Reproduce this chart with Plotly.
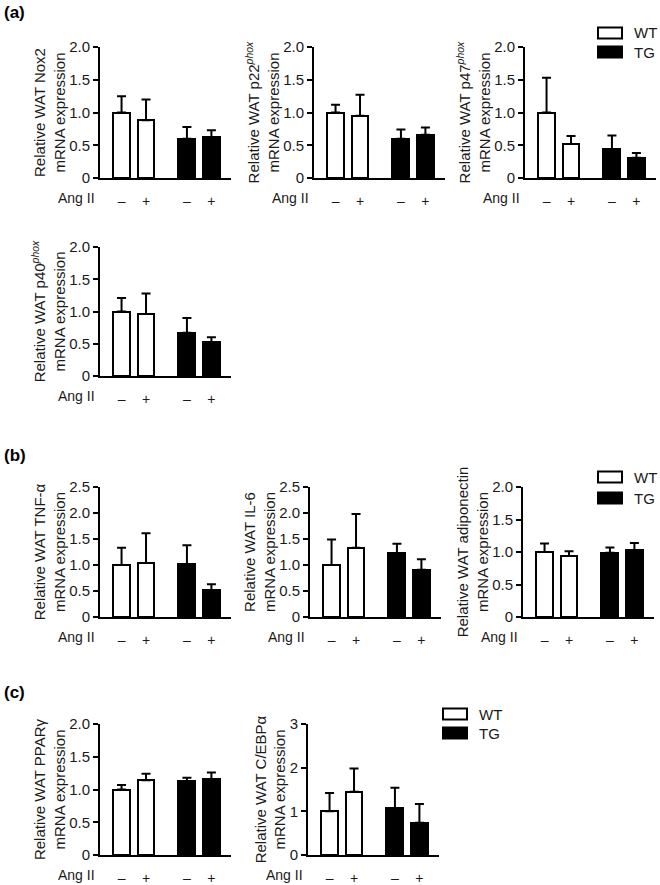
import plotly.graph_objects as go

W, H = 660, 885

# ---------------- data ----------------
ang_labels = ["–", "+", "–", "+"]          # Ang II treatment
group_names = ["WT", "TG"]

nox2_mean = [1.00, 0.88, 0.60, 0.62]
nox2_sd = [0.25, 0.32, 0.18, 0.11]

p22_mean = [1.00, 0.95, 0.60, 0.66]
p22_sd = [0.12, 0.32, 0.14, 0.11]

p47_mean = [1.00, 0.52, 0.44, 0.31]
p47_sd = [0.53, 0.12, 0.21, 0.07]

p40_mean = [1.00, 0.96, 0.67, 0.52]
p40_sd = [0.21, 0.32, 0.23, 0.08]

tnf_mean = [1.00, 1.04, 1.02, 0.52]
tnf_sd = [0.33, 0.57, 0.36, 0.11]

il6_mean = [1.00, 1.33, 1.23, 0.91]
il6_sd = [0.49, 0.65, 0.18, 0.20]

adipo_mean = [1.00, 0.94, 0.99, 1.03]
adipo_sd = [0.13, 0.07, 0.08, 0.11]

ppar_mean = [1.00, 1.14, 1.13, 1.16]
ppar_sd = [0.07, 0.10, 0.05, 0.10]

cebp_mean = [1.00, 1.45, 1.07, 0.74]
cebp_sd = [0.42, 0.53, 0.47, 0.43]

ticks_20 = [0, 0.5, 1.0, 1.5, 2.0]
ticks_20_text = ["0", "0.5", "1.0", "1.5", "2.0"]
ticks_25 = [0, 0.5, 1.0, 1.5, 2.0, 2.5]
ticks_25_text = ["0", "0.5", "1.0", "1.5", "2.0", "2.5"]
ticks_3 = [0, 1, 2, 3]
ticks_3_text = ["0", "1", "2", "3"]

# ---------------- layout helpers ----------------
FONT = "Liberation Sans, Arial, Helvetica, sans-serif"
TXT = "#1a1a1a"
x_pos = [0, 1, 2.67, 3.67]
XR = [-0.88, 4.47]
PW = 131  # plot width in px

def title(name):
    return "Relative WAT " + name + "<br>mRNA expression"

panels = [
    # title, mean, sd, tickvals, ticktext, left px, top px, bottom px
    (title("Nox2"), nox2_mean, nox2_sd, ticks_20, ticks_20_text, 100, 47, 178),
    (title("p22<sup><i>phox</i></sup>"), p22_mean, p22_sd, ticks_20, ticks_20_text, 314, 47, 178),
    (title("p47<sup><i>phox</i></sup>"), p47_mean, p47_sd, ticks_20, ticks_20_text, 525, 47, 178),
    (title("p40<sup><i>phox</i></sup>"), p40_mean, p40_sd, ticks_20, ticks_20_text, 100, 247, 376),
    (title("TNF-α"), tnf_mean, tnf_sd, ticks_25, ticks_25_text, 100, 487, 617),
    (title("IL-6"), il6_mean, il6_sd, ticks_25, ticks_25_text, 310, 487, 617),
    (title("adiponectin"), adipo_mean, adipo_sd, ticks_20, ticks_20_text, 523, 487, 617),
    (title("PPARγ"), ppar_mean, ppar_sd, ticks_20, ticks_20_text, 100, 724, 855),
    (title("C/EBPα"), cebp_mean, cebp_sd, ticks_3, ticks_3_text, 308, 724, 855),
]

fig = go.Figure()
layout = dict(
    width=W, height=H,
    margin=dict(l=0, r=0, t=0, b=0, pad=0),
    paper_bgcolor="white", plot_bgcolor="white",
    showlegend=False,
    font=dict(family=FONT, size=14, color=TXT),
    bargap=0,
)
annotations = []
shapes = []

for i, (ttl, mean, sd, tv, tt, left, top, bottom) in enumerate(panels, start=1):
    xa = "x" if i == 1 else f"x{i}"
    ya = "y" if i == 1 else f"y{i}"
    for g, (sl, fill) in enumerate([(slice(0, 2), "white"), (slice(2, 4), "black")]):
        fig.add_trace(go.Bar(
            x=x_pos[sl], y=mean[sl], width=0.69,
            name=group_names[g],
            marker=dict(color=fill, line=dict(color="black", width=2)),
            error_y=dict(type="data", symmetric=False, array=sd[sl],
                         arrayminus=[0, 0], color="black", thickness=2, width=4.5),
            xaxis=xa, yaxis=ya,
        ))
    ymax = tv[-1]
    layout["xaxis" if i == 1 else f"xaxis{i}"] = dict(
        domain=[left / W, (left + PW) / W], range=XR,
        showline=True, linecolor="black", linewidth=2,
        showgrid=False, zeroline=False, ticks="",
        tickvals=x_pos, ticktext=ang_labels,
        tickfont=dict(size=14, color=TXT), ticklabelstandoff=9,
        anchor=ya, fixedrange=True, automargin=False,
    )
    layout["yaxis" if i == 1 else f"yaxis{i}"] = dict(
        domain=[1 - bottom / H, 1 - top / H], range=[0, ymax],
        showline=True, linecolor="black", linewidth=2,
        showgrid=False, zeroline=False,
        ticks="outside", ticklen=5, tickwidth=2, tickcolor="black",
        tickvals=tv, ticktext=tt, tickfont=dict(size=15, color=TXT),
        title=dict(text=ttl, font=dict(size=15, color=TXT), standoff=0),
        anchor=xa, fixedrange=True, automargin=False,
    )
    # "Ang II" row label
    annotations.append(dict(
        text="Ang II", xref="paper", yref="paper",
        x=(left - 3) / W, y=1 - (bottom + 20) / H,
        xanchor="right", yanchor="middle", showarrow=False,
        font=dict(size=14, color=TXT),
    ))

# panel letters
for lab, yy in [("(a)", 12), ("(b)", 455), ("(c)", 692)]:
    annotations.append(dict(
        text=f"<b>{lab}</b>", xref="paper", yref="paper",
        x=2 / W, y=1 - yy / H, xanchor="left", yanchor="middle",
        showarrow=False, font=dict(size=17, color="black"),
    ))

# legends
for lx, wy, ty in [(598, 33, 52), (598, 477, 498), (443, 714, 733)]:
    for name, cy, fill in [(group_names[0], wy, "white"), (group_names[1], ty, "black")]:
        shapes.append(dict(
            type="rect", xref="paper", yref="paper",
            x0=lx / W, x1=(lx + 24) / W,
            y0=1 - (cy - 5.5) / H, y1=1 - (cy + 5.5) / H,
            fillcolor=fill, line=dict(color="black", width=2),
        ))
        annotations.append(dict(
            text=name, xref="paper", yref="paper",
            x=(lx + 34) / W, y=1 - cy / H, xanchor="left", yanchor="middle",
            showarrow=False, font=dict(size=15, color=TXT),
        ))

layout["annotations"] = annotations
layout["shapes"] = shapes
fig.update_layout(**layout)
fig.write_html(
    "out.html",
    config={"displayModeBar": False},
    post_script="document.body.style.margin='0';document.body.style.padding='0';",
)
